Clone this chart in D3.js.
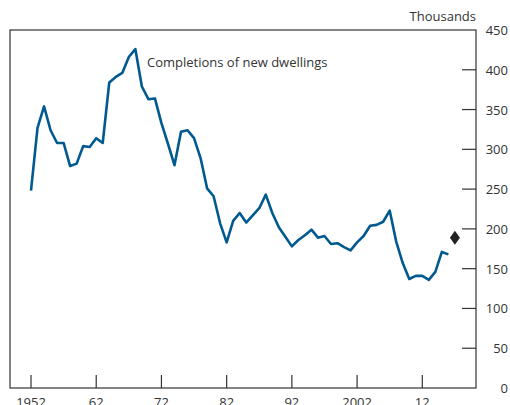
<!DOCTYPE html>
<html><head><meta charset="utf-8">
<script src="https://cdn.jsdelivr.net/npm/d3@7"></script>
<style>html,body{margin:0;padding:0;background:#fff;}text{font-family:"Open Sans",sans-serif;fill:#333;}</style>
</head><body><svg id="c" width="510" height="405"></svg>
<script>
const years = d3.range(1952, 2017);
const completions = [248,327,354,324,308,308,279,282,304,303,314,308,384,391,396,416,426,379,363,364,333,307,280,322,324,314,289,251,241,207,183,210,220,208,217,226,243,220,202,190,178,186,192,199,189,191,181,182,177,173,183,191,204,205,209,223,184,157,137,141,141,136,146,171,168];
const projection = [{year: 2017, value: 189}];
const yTicks = [0,50,100,150,200,250,300,350,400,450];
const xTicks = [1952,1962,1972,1982,1992,2002,2012];
const xTickLabels = ["1952","62","72","82","92","2002","12"];
const seriesLabel = "Completions of new dwellings";
const unitLabel = "Thousands";

const svg = d3.select("#c");
const L = 10, R = 476, T = 30, B = 388;
const x = d3.scaleLinear().domain([1952, 2012]).range([31, 422.3]);
const y = d3.scaleLinear().domain([0, 450]).range([B, T]);

// frame
svg.append("rect").attr("x", L).attr("y", T).attr("width", R - L).attr("height", B - T)
  .attr("fill", "none").attr("stroke", "#333").attr("stroke-width", 1.2);

// y ticks (right side, inward)
svg.selectAll(".yt").data(yTicks.filter(d => d > 0 && d < 450)).enter().append("line")
  .attr("x1", R - 14).attr("x2", R).attr("y1", d => y(d)).attr("y2", d => y(d))
  .attr("stroke", "#333").attr("stroke-width", 1.2);
svg.selectAll(".yl").data(yTicks).enter().append("text")
  .attr("x", 508).attr("y", d => y(d) + 5).attr("text-anchor", "end")
  .attr("font-size", 13).text(d => d);

// x ticks (bottom, inward)
svg.selectAll(".xt").data(xTicks).enter().append("line")
  .attr("x1", d => x(d)).attr("x2", d => x(d)).attr("y1", B - 13).attr("y2", B)
  .attr("stroke", "#333").attr("stroke-width", 1.2);
svg.selectAll(".xl").data(xTicks).enter().append("text")
  .attr("x", d => x(d)).attr("y", 407).attr("text-anchor", "middle")
  .attr("font-size", 13).text((d, i) => xTickLabels[i]);

svg.append("text").attr("x", R).attr("y", 21).attr("text-anchor", "end")
  .attr("font-size", 13).text(unitLabel);

// line
const line = d3.line().x((d, i) => x(years[i])).y(d => y(d));
svg.append("path").datum(completions).attr("d", line)
  .attr("fill", "none").attr("stroke", "#005a90").attr("stroke-width", 2.6)
  .attr("stroke-linejoin", "round");

// projection diamond
svg.selectAll(".dm").data(projection).enter().append("path")
  .attr("transform", d => `translate(${x(d.year)},${y(d.value)})`)
  .attr("d", "M0,-7L5,0L0,7L-5,0Z").attr("fill", "#222");

svg.append("text").attr("x", 147).attr("y", 67).attr("font-size", 13).text(seriesLabel);
</script></body></html>
